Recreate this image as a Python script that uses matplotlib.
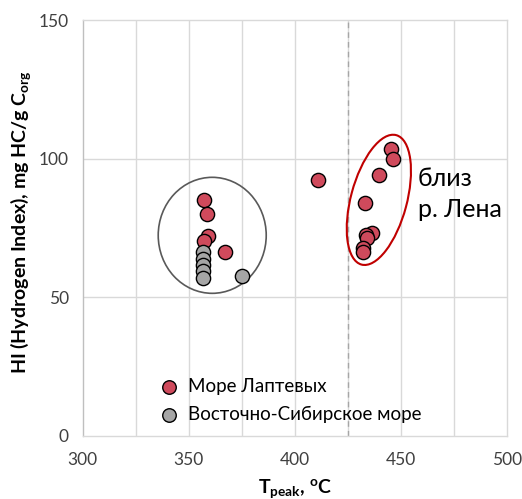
import matplotlib
matplotlib.use("Agg")
import matplotlib.pyplot as plt
from matplotlib.patches import Ellipse
from matplotlib.transforms import Affine2D, ScaledTranslation

plt.rcParams['font.family'] = ['Lato', 'DejaVu Sans']
plt.rcParams['mathtext.fontset'] = 'custom'
plt.rcParams['mathtext.rm'] = 'Lato'
plt.rcParams['mathtext.bf'] = 'Lato:bold'
plt.rcParams['mathtext.it'] = 'Lato:italic'

# Data
laptev_t = [357.2, 358.5, 359.2, 357.2, 367.1, 411.0, 445.3, 446.2, 439.8,
            433.2, 436.3, 433.6, 434.2, 432.4, 432.4]
laptev_hi = [84.9, 80.1, 72.0, 70.1, 66.2, 92.1, 103.4, 100.0, 94.1,
             84.1, 73.0, 72.3, 71.4, 67.8, 66.2]
ess_t = [356.9, 356.9, 356.9, 356.9, 356.9, 375.0]
ess_hi = [66.2, 63.9, 61.6, 59.3, 56.8, 57.8]
labels = ['Море Лаптевых', 'Восточно-Сибирское море']
xticks = [300, 350, 400, 450, 500]
yticks = [0, 50, 100, 150]
divider_t = 425

red = '#CF4A5C'
gray = '#A6A6A6'

fig = plt.figure(figsize=(5.22, 4.99), dpi=100)
ax = fig.add_axes([0.1584, 0.1269, 0.9707 - 0.1584, 0.9599 - 0.1269])
ax.set_xlim(300, 500)
ax.set_ylim(0, 150)

# grid
for xv in range(325, 500, 25):
    ax.axvline(xv, color='#D9D9D9', lw=1.0, zorder=0)
for yv in [50, 100]:
    ax.axhline(yv, color='#D9D9D9', lw=1.0, zorder=0)
ax.axvline(divider_t, color='#A6A6A6', lw=1.0, ls=(0, (4, 3)), zorder=1)

for s in ax.spines.values():
    s.set_color('#D9D9D9')
    s.set_linewidth(1.0)
ax.spines['left'].set_color('#BFBFBF')

ax.set_xticks(xticks)
ax.set_yticks(yticks)
ax.tick_params(length=0, labelsize=12.5, colors='#404040')
ax.tick_params(axis='x', pad=12)
ax.tick_params(axis='y', pad=10)

ax.scatter(laptev_t, laptev_hi, s=105, color=red, edgecolor='black',
           linewidth=1.0, zorder=3, label=labels[0])
ax.scatter(ess_t, ess_hi, s=105, color=gray, edgecolor='black',
           linewidth=1.0, zorder=3, label=labels[1])

# ellipses defined in pixel units around data centers
def pix_ellipse(cx, cy, w, h, angle, color, lw):
    tr = Affine2D() + ScaledTranslation(cx, cy, ax.transData)
    e = Ellipse((0, 0), w, h, angle=angle, fill=False, edgecolor=color,
                lw=lw, transform=tr, zorder=2)
    ax.add_patch(e)

pix_ellipse(361.1, 72.3, 108, 116, 0, '#595959', 1.2)
pix_ellipse(439.7, 85.1, 134, 56, 75, '#C00000', 1.5)

ax.text(458.0, 97, 'близ\nр. Лена', fontsize=18, color='black',
        va='top', ha='left', linespacing=1.45)

leg = ax.legend(loc='lower left', bbox_to_anchor=(0.125, -0.005), frameon=False,
                fontsize=13.5, handletextpad=0.0, borderpad=0.3,
                labelspacing=0.55, markerscale=0.95)

ax.set_ylabel('HI (Hydrogen Index), mg HC/g C$_{\\mathbf{org}}$',
              fontsize=14, fontweight='bold')
ax.yaxis.set_label_coords(-0.117, 0.514)
ax.set_xlabel('T$_{\\mathbf{peak}}$, $^{\\mathbf{o}}$C', fontsize=14,
              fontweight='bold', labelpad=6)

fig.savefig('out.png', dpi=100)
